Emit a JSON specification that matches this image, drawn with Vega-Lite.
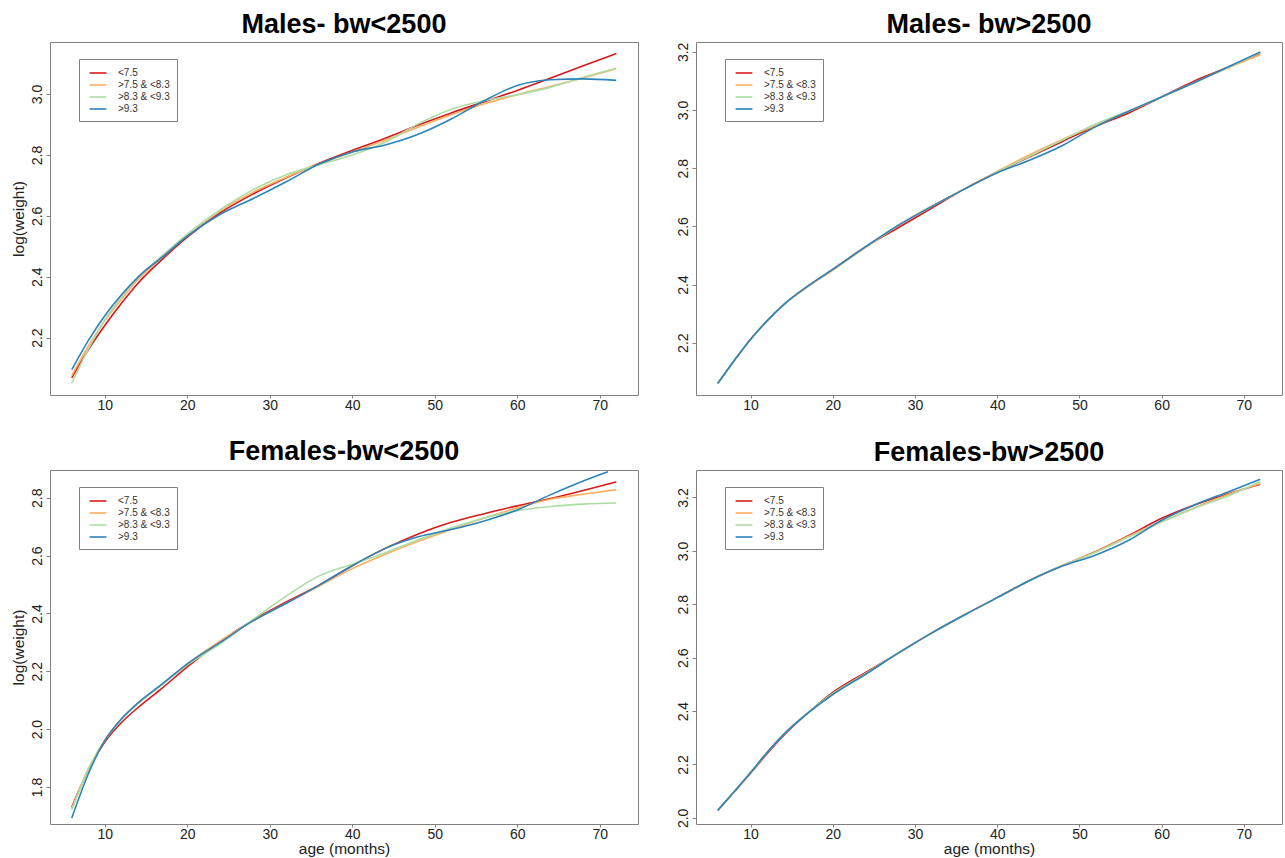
{
"$schema": "https://vega.github.io/schema/vega-lite/v6.json",
"padding": {"left": 10, "top": 10, "right": 3, "bottom": 0},
"background": "white",
"datasets": {
"m1": [
{"g":"<7.5","x":6,"y":2.068},{"g":"<7.5","x":8,"y":2.160},{"g":"<7.5","x":10,"y":2.240},{"g":"<7.5","x":12,"y":2.312},{"g":"<7.5","x":14,"y":2.378},{"g":"<7.5","x":17,"y":2.458},{"g":"<7.5","x":20,"y":2.530},{"g":"<7.5","x":24,"y":2.610},{"g":"<7.5","x":28,"y":2.672},{"g":"<7.5","x":32,"y":2.725},{"g":"<7.5","x":36,"y":2.773},{"g":"<7.5","x":40,"y":2.815},{"g":"<7.5","x":44,"y":2.855},{"g":"<7.5","x":48,"y":2.898},{"g":"<7.5","x":52,"y":2.938},{"g":"<7.5","x":56,"y":2.975},{"g":"<7.5","x":60,"y":3.012},{"g":"<7.5","x":64,"y":3.052},{"g":"<7.5","x":68,"y":3.093},{"g":"<7.5","x":72,"y":3.133},
{"g":">7.5 & <8.3","x":6,"y":2.075},{"g":">7.5 & <8.3","x":8,"y":2.172},{"g":">7.5 & <8.3","x":10,"y":2.255},{"g":">7.5 & <8.3","x":12,"y":2.325},{"g":">7.5 & <8.3","x":14,"y":2.390},{"g":">7.5 & <8.3","x":17,"y":2.465},{"g":">7.5 & <8.3","x":20,"y":2.537},{"g":">7.5 & <8.3","x":24,"y":2.617},{"g":">7.5 & <8.3","x":28,"y":2.678},{"g":">7.5 & <8.3","x":32,"y":2.727},{"g":">7.5 & <8.3","x":36,"y":2.770},{"g":">7.5 & <8.3","x":40,"y":2.810},{"g":">7.5 & <8.3","x":44,"y":2.848},{"g":">7.5 & <8.3","x":48,"y":2.892},{"g":">7.5 & <8.3","x":52,"y":2.932},{"g":">7.5 & <8.3","x":56,"y":2.968},{"g":">7.5 & <8.3","x":60,"y":2.998},{"g":">7.5 & <8.3","x":64,"y":3.025},{"g":">7.5 & <8.3","x":68,"y":3.053},{"g":">7.5 & <8.3","x":72,"y":3.083},
{"g":">8.3 & <9.3","x":6,"y":2.050},{"g":">8.3 & <9.3","x":8,"y":2.162},{"g":">8.3 & <9.3","x":10,"y":2.258},{"g":">8.3 & <9.3","x":12,"y":2.333},{"g":">8.3 & <9.3","x":14,"y":2.397},{"g":">8.3 & <9.3","x":17,"y":2.470},{"g":">8.3 & <9.3","x":20,"y":2.540},{"g":">8.3 & <9.3","x":24,"y":2.620},{"g":">8.3 & <9.3","x":28,"y":2.686},{"g":">8.3 & <9.3","x":32,"y":2.735},{"g":">8.3 & <9.3","x":36,"y":2.768},{"g":">8.3 & <9.3","x":40,"y":2.800},{"g":">8.3 & <9.3","x":44,"y":2.842},{"g":">8.3 & <9.3","x":48,"y":2.902},{"g":">8.3 & <9.3","x":52,"y":2.950},{"g":">8.3 & <9.3","x":56,"y":2.978},{"g":">8.3 & <9.3","x":60,"y":2.998},{"g":">8.3 & <9.3","x":64,"y":3.022},{"g":">8.3 & <9.3","x":68,"y":3.055},{"g":">8.3 & <9.3","x":72,"y":3.085},
{"g":">9.3","x":6,"y":2.095},{"g":">9.3","x":8,"y":2.190},{"g":">9.3","x":10,"y":2.272},{"g":">9.3","x":12,"y":2.340},{"g":">9.3","x":14,"y":2.398},{"g":">9.3","x":17,"y":2.465},{"g":">9.3","x":20,"y":2.533},{"g":">9.3","x":24,"y":2.605},{"g":">9.3","x":28,"y":2.657},{"g":">9.3","x":32,"y":2.712},{"g":">9.3","x":36,"y":2.770},{"g":">9.3","x":40,"y":2.810},{"g":">9.3","x":44,"y":2.833},{"g":">9.3","x":48,"y":2.868},{"g":">9.3","x":52,"y":2.918},{"g":">9.3","x":56,"y":2.978},{"g":">9.3","x":60,"y":3.028},{"g":">9.3","x":64,"y":3.047},{"g":">9.3","x":68,"y":3.050},{"g":">9.3","x":72,"y":3.045}
],
"m2": [
{"g":"<7.5","x":6,"y":2.060},{"g":"<7.5","x":8,"y":2.138},{"g":"<7.5","x":10,"y":2.212},{"g":"<7.5","x":12,"y":2.275},{"g":"<7.5","x":14,"y":2.330},{"g":"<7.5","x":17,"y":2.395},{"g":"<7.5","x":20,"y":2.452},{"g":"<7.5","x":24,"y":2.530},{"g":"<7.5","x":28,"y":2.596},{"g":"<7.5","x":32,"y":2.662},{"g":"<7.5","x":36,"y":2.728},{"g":"<7.5","x":40,"y":2.786},{"g":"<7.5","x":44,"y":2.840},{"g":"<7.5","x":48,"y":2.893},{"g":"<7.5","x":52,"y":2.945},{"g":"<7.5","x":56,"y":2.990},{"g":"<7.5","x":60,"y":3.045},{"g":"<7.5","x":64,"y":3.100},{"g":"<7.5","x":68,"y":3.146},{"g":"<7.5","x":72,"y":3.195},
{"g":">7.5 & <8.3","x":6,"y":2.060},{"g":">7.5 & <8.3","x":8,"y":2.138},{"g":">7.5 & <8.3","x":10,"y":2.212},{"g":">7.5 & <8.3","x":12,"y":2.275},{"g":">7.5 & <8.3","x":14,"y":2.330},{"g":">7.5 & <8.3","x":17,"y":2.393},{"g":">7.5 & <8.3","x":20,"y":2.449},{"g":">7.5 & <8.3","x":24,"y":2.528},{"g":">7.5 & <8.3","x":28,"y":2.603},{"g":">7.5 & <8.3","x":32,"y":2.668},{"g":">7.5 & <8.3","x":36,"y":2.729},{"g":">7.5 & <8.3","x":40,"y":2.789},{"g":">7.5 & <8.3","x":44,"y":2.847},{"g":">7.5 & <8.3","x":48,"y":2.900},{"g":">7.5 & <8.3","x":52,"y":2.948},{"g":">7.5 & <8.3","x":56,"y":2.996},{"g":">7.5 & <8.3","x":60,"y":3.045},{"g":">7.5 & <8.3","x":64,"y":3.095},{"g":">7.5 & <8.3","x":68,"y":3.144},{"g":">7.5 & <8.3","x":72,"y":3.190},
{"g":">8.3 & <9.3","x":6,"y":2.060},{"g":">8.3 & <9.3","x":8,"y":2.138},{"g":">8.3 & <9.3","x":10,"y":2.212},{"g":">8.3 & <9.3","x":12,"y":2.275},{"g":">8.3 & <9.3","x":14,"y":2.330},{"g":">8.3 & <9.3","x":17,"y":2.395},{"g":">8.3 & <9.3","x":20,"y":2.452},{"g":">8.3 & <9.3","x":24,"y":2.530},{"g":">8.3 & <9.3","x":28,"y":2.605},{"g":">8.3 & <9.3","x":32,"y":2.669},{"g":">8.3 & <9.3","x":36,"y":2.728},{"g":">8.3 & <9.3","x":40,"y":2.786},{"g":">8.3 & <9.3","x":44,"y":2.842},{"g":">8.3 & <9.3","x":48,"y":2.898},{"g":">8.3 & <9.3","x":52,"y":2.952},{"g":">8.3 & <9.3","x":56,"y":2.998},{"g":">8.3 & <9.3","x":60,"y":3.045},{"g":">8.3 & <9.3","x":64,"y":3.094},{"g":">8.3 & <9.3","x":68,"y":3.146},{"g":">8.3 & <9.3","x":72,"y":3.198},
{"g":">9.3","x":6,"y":2.060},{"g":">9.3","x":8,"y":2.138},{"g":">9.3","x":10,"y":2.212},{"g":">9.3","x":12,"y":2.275},{"g":">9.3","x":14,"y":2.330},{"g":">9.3","x":17,"y":2.395},{"g":">9.3","x":20,"y":2.452},{"g":">9.3","x":24,"y":2.530},{"g":">9.3","x":28,"y":2.604},{"g":">9.3","x":32,"y":2.668},{"g":">9.3","x":36,"y":2.728},{"g":">9.3","x":40,"y":2.784},{"g":">9.3","x":44,"y":2.828},{"g":">9.3","x":48,"y":2.879},{"g":">9.3","x":52,"y":2.943},{"g":">9.3","x":56,"y":2.996},{"g":">9.3","x":60,"y":3.045},{"g":">9.3","x":64,"y":3.095},{"g":">9.3","x":68,"y":3.147},{"g":">9.3","x":72,"y":3.200}
],
"f1": [
{"g":"<7.5","x":6,"y":1.730},{"g":"<7.5","x":8,"y":1.858},{"g":"<7.5","x":10,"y":1.955},{"g":"<7.5","x":12,"y":2.022},{"g":"<7.5","x":14,"y":2.074},{"g":"<7.5","x":17,"y":2.143},{"g":"<7.5","x":20,"y":2.215},{"g":"<7.5","x":24,"y":2.303},{"g":"<7.5","x":28,"y":2.378},{"g":"<7.5","x":32,"y":2.440},{"g":"<7.5","x":36,"y":2.498},{"g":"<7.5","x":40,"y":2.565},{"g":"<7.5","x":44,"y":2.625},{"g":"<7.5","x":48,"y":2.675},{"g":"<7.5","x":52,"y":2.715},{"g":"<7.5","x":56,"y":2.745},{"g":"<7.5","x":60,"y":2.772},{"g":"<7.5","x":64,"y":2.797},{"g":"<7.5","x":68,"y":2.825},{"g":"<7.5","x":72,"y":2.855},
{"g":">7.5 & <8.3","x":6,"y":1.725},{"g":">7.5 & <8.3","x":8,"y":1.862},{"g":">7.5 & <8.3","x":10,"y":1.962},{"g":">7.5 & <8.3","x":12,"y":2.034},{"g":">7.5 & <8.3","x":14,"y":2.088},{"g":">7.5 & <8.3","x":17,"y":2.155},{"g":">7.5 & <8.3","x":20,"y":2.225},{"g":">7.5 & <8.3","x":24,"y":2.305},{"g":">7.5 & <8.3","x":28,"y":2.375},{"g":">7.5 & <8.3","x":32,"y":2.435},{"g":">7.5 & <8.3","x":36,"y":2.495},{"g":">7.5 & <8.3","x":40,"y":2.555},{"g":">7.5 & <8.3","x":44,"y":2.605},{"g":">7.5 & <8.3","x":48,"y":2.650},{"g":">7.5 & <8.3","x":52,"y":2.690},{"g":">7.5 & <8.3","x":56,"y":2.730},{"g":">7.5 & <8.3","x":60,"y":2.765},{"g":">7.5 & <8.3","x":64,"y":2.795},{"g":">7.5 & <8.3","x":68,"y":2.812},{"g":">7.5 & <8.3","x":72,"y":2.828},
{"g":">8.3 & <9.3","x":6,"y":1.722},{"g":">8.3 & <9.3","x":8,"y":1.860},{"g":">8.3 & <9.3","x":10,"y":1.961},{"g":">8.3 & <9.3","x":12,"y":2.034},{"g":">8.3 & <9.3","x":14,"y":2.088},{"g":">8.3 & <9.3","x":17,"y":2.155},{"g":">8.3 & <9.3","x":20,"y":2.222},{"g":">8.3 & <9.3","x":24,"y":2.295},{"g":">8.3 & <9.3","x":28,"y":2.380},{"g":">8.3 & <9.3","x":32,"y":2.460},{"g":">8.3 & <9.3","x":36,"y":2.530},{"g":">8.3 & <9.3","x":40,"y":2.570},{"g":">8.3 & <9.3","x":44,"y":2.610},{"g":">8.3 & <9.3","x":48,"y":2.655},{"g":">8.3 & <9.3","x":52,"y":2.695},{"g":">8.3 & <9.3","x":56,"y":2.730},{"g":">8.3 & <9.3","x":60,"y":2.755},{"g":">8.3 & <9.3","x":64,"y":2.770},{"g":">8.3 & <9.3","x":68,"y":2.778},{"g":">8.3 & <9.3","x":72,"y":2.782},
{"g":">9.3","x":6,"y":1.693},{"g":">9.3","x":8,"y":1.845},{"g":">9.3","x":10,"y":1.960},{"g":">9.3","x":12,"y":2.035},{"g":">9.3","x":14,"y":2.090},{"g":">9.3","x":17,"y":2.157},{"g":">9.3","x":20,"y":2.226},{"g":">9.3","x":24,"y":2.300},{"g":">9.3","x":28,"y":2.375},{"g":">9.3","x":32,"y":2.435},{"g":">9.3","x":36,"y":2.498},{"g":">9.3","x":40,"y":2.565},{"g":">9.3","x":44,"y":2.625},{"g":">9.3","x":48,"y":2.665},{"g":">9.3","x":52,"y":2.690},{"g":">9.3","x":56,"y":2.720},{"g":">9.3","x":60,"y":2.758},{"g":">9.3","x":64,"y":2.810},{"g":">9.3","x":68,"y":2.858},{"g":">9.3","x":71,"y":2.890}
],
"f2": [
{"g":"<7.5","x":6,"y":2.028},{"g":"<7.5","x":8,"y":2.097},{"g":"<7.5","x":10,"y":2.167},{"g":"<7.5","x":12,"y":2.240},{"g":"<7.5","x":14,"y":2.308},{"g":"<7.5","x":17,"y":2.394},{"g":"<7.5","x":20,"y":2.470},{"g":"<7.5","x":24,"y":2.545},{"g":"<7.5","x":28,"y":2.618},{"g":"<7.5","x":32,"y":2.692},{"g":"<7.5","x":36,"y":2.760},{"g":"<7.5","x":40,"y":2.825},{"g":"<7.5","x":44,"y":2.890},{"g":"<7.5","x":48,"y":2.946},{"g":"<7.5","x":52,"y":2.998},{"g":"<7.5","x":56,"y":3.058},{"g":"<7.5","x":60,"y":3.122},{"g":"<7.5","x":64,"y":3.172},{"g":"<7.5","x":68,"y":3.213},{"g":"<7.5","x":72,"y":3.250},
{"g":">7.5 & <8.3","x":6,"y":2.028},{"g":">7.5 & <8.3","x":8,"y":2.098},{"g":">7.5 & <8.3","x":10,"y":2.170},{"g":">7.5 & <8.3","x":12,"y":2.245},{"g":">7.5 & <8.3","x":14,"y":2.312},{"g":">7.5 & <8.3","x":17,"y":2.395},{"g":">7.5 & <8.3","x":20,"y":2.465},{"g":">7.5 & <8.3","x":24,"y":2.540},{"g":">7.5 & <8.3","x":28,"y":2.618},{"g":">7.5 & <8.3","x":32,"y":2.692},{"g":">7.5 & <8.3","x":36,"y":2.760},{"g":">7.5 & <8.3","x":40,"y":2.825},{"g":">7.5 & <8.3","x":44,"y":2.890},{"g":">7.5 & <8.3","x":48,"y":2.946},{"g":">7.5 & <8.3","x":52,"y":2.997},{"g":">7.5 & <8.3","x":56,"y":3.055},{"g":">7.5 & <8.3","x":60,"y":3.110},{"g":">7.5 & <8.3","x":64,"y":3.162},{"g":">7.5 & <8.3","x":68,"y":3.210},{"g":">7.5 & <8.3","x":72,"y":3.252},
{"g":">8.3 & <9.3","x":6,"y":2.028},{"g":">8.3 & <9.3","x":8,"y":2.098},{"g":">8.3 & <9.3","x":10,"y":2.170},{"g":">8.3 & <9.3","x":12,"y":2.245},{"g":">8.3 & <9.3","x":14,"y":2.312},{"g":">8.3 & <9.3","x":17,"y":2.395},{"g":">8.3 & <9.3","x":20,"y":2.465},{"g":">8.3 & <9.3","x":24,"y":2.540},{"g":">8.3 & <9.3","x":28,"y":2.618},{"g":">8.3 & <9.3","x":32,"y":2.692},{"g":">8.3 & <9.3","x":36,"y":2.760},{"g":">8.3 & <9.3","x":40,"y":2.825},{"g":">8.3 & <9.3","x":44,"y":2.890},{"g":">8.3 & <9.3","x":48,"y":2.946},{"g":">8.3 & <9.3","x":52,"y":2.995},{"g":">8.3 & <9.3","x":56,"y":3.052},{"g":">8.3 & <9.3","x":60,"y":3.108},{"g":">8.3 & <9.3","x":64,"y":3.160},{"g":">8.3 & <9.3","x":68,"y":3.205},{"g":">8.3 & <9.3","x":72,"y":3.260},
{"g":">9.3","x":6,"y":2.028},{"g":">9.3","x":8,"y":2.098},{"g":">9.3","x":10,"y":2.170},{"g":">9.3","x":12,"y":2.245},{"g":">9.3","x":14,"y":2.312},{"g":">9.3","x":17,"y":2.393},{"g":">9.3","x":20,"y":2.462},{"g":">9.3","x":24,"y":2.538},{"g":">9.3","x":28,"y":2.618},{"g":">9.3","x":32,"y":2.692},{"g":">9.3","x":36,"y":2.760},{"g":">9.3","x":40,"y":2.825},{"g":">9.3","x":44,"y":2.890},{"g":">9.3","x":48,"y":2.944},{"g":">9.3","x":52,"y":2.985},{"g":">9.3","x":56,"y":3.040},{"g":">9.3","x":60,"y":3.115},{"g":">9.3","x":64,"y":3.172},{"g":">9.3","x":68,"y":3.220},{"g":">9.3","x":72,"y":3.268}
]
},
"config": {
"view": {"stroke": "#808080", "strokeWidth": 1},
"font": "Liberation Sans",
"axis": {"domain": false, "grid": false, "ticks": true, "tickColor": "#808080", "tickSize": 4, "labelFont": "Liberation Sans", "labelFontSize": 14, "labelColor": "#222222", "titleFont": "Liberation Sans", "titleFontSize": 15.5, "titleFontWeight": "normal", "titleColor": "#222222"},
"axisX": {"tickSize": 3, "labelPadding": 0},
"title": {"font": "Liberation Sans", "fontSize": 27, "fontWeight": "bold", "color": "#000000", "anchor": "middle", "frame": "group", "offset": 3, "baseline": "alphabetic"},
"line": {"strokeWidth": 1.6, "interpolate": "monotone", "clip": true}
},
"spacing": 24,
"resolve": {"legend": {"color": "independent"}},
"vconcat": [
{"spacing": 36, "resolve": {"legend": {"color": "independent"}}, "hconcat": [
{"width": 588, "height": 353, "title": "Males- bw<2500", "data": {"name": "m1"}, "mark": {"type": "line"},
 "encoding": {
  "x": {"field": "x", "type": "quantitative", "scale": {"domain": [3.36, 74.64], "nice": false, "zero": false}, "axis": {"values": [10,20,30,40,50,60,70], "title": null}},
  "y": {"field": "y", "type": "quantitative", "scale": {"domain": [2.0115, 3.171], "nice": false, "zero": false}, "axis": {"values": [2.2,2.4,2.6,2.8,3.0], "format": ".1f", "title": "log(weight)", "labelAngle": 270, "labelAlign": "center", "labelBaseline": "bottom", "labelPadding": 2, "titlePadding": 4}},
  "color": {"field": "g", "type": "nominal", "scale": {"domain": ["<7.5", ">7.5 & <8.3", ">8.3 & <9.3", ">9.3"], "range": ["#D7191C", "#FDAE61", "#ABDDA4", "#2B83BA"]},
   "legend": {"orient": "none", "legendX": 29, "legendY": 17, "title": null, "strokeColor": "#808080", "fillColor": "white", "padding": 7, "symbolType": "M-1.4,0H1.4", "symbolSize": 144, "symbolStrokeWidth": 2, "symbolOffset": 5, "labelOffset": 13, "labelFont": "Liberation Sans", "labelFontSize": 10, "labelColor": "#333333", "rowPadding": 0, "labelLimit": 200, "cornerRadius": 0}}
 }},
{"width": 586, "height": 353, "title": "Males- bw>2500", "data": {"name": "m2"}, "mark": {"type": "line"},
 "encoding": {
  "x": {"field": "x", "type": "quantitative", "scale": {"domain": [3.36, 74.64], "nice": false, "zero": false}, "axis": {"values": [10,20,30,40,50,60,70], "title": null}},
  "y": {"field": "y", "type": "quantitative", "scale": {"domain": [2.02, 3.234], "nice": false, "zero": false}, "axis": {"values": [2.2,2.4,2.6,2.8,3.0,3.2], "format": ".1f", "title": null, "labelAngle": 270, "labelAlign": "center", "labelBaseline": "bottom", "labelPadding": 2}},
  "color": {"field": "g", "type": "nominal", "scale": {"domain": ["<7.5", ">7.5 & <8.3", ">8.3 & <9.3", ">9.3"], "range": ["#D7191C", "#FDAE61", "#ABDDA4", "#2B83BA"]},
   "legend": {"orient": "none", "legendX": 29, "legendY": 17, "title": null, "strokeColor": "#808080", "fillColor": "white", "padding": 7, "symbolType": "M-1.4,0H1.4", "symbolSize": 144, "symbolStrokeWidth": 2, "symbolOffset": 5, "labelOffset": 13, "labelFont": "Liberation Sans", "labelFontSize": 10, "labelColor": "#333333", "rowPadding": 0, "labelLimit": 200, "cornerRadius": 0}}
 }}
]},
{"spacing": 36, "resolve": {"legend": {"color": "independent"}}, "hconcat": [
{"width": 588, "height": 354, "title": "Females-bw<2500", "data": {"name": "f1"}, "mark": {"type": "line"},
 "encoding": {
  "x": {"field": "x", "type": "quantitative", "scale": {"domain": [3.36, 74.64], "nice": false, "zero": false}, "axis": {"values": [10,20,30,40,50,60,70], "title": "age (months)", "titlePadding": 0}},
  "y": {"field": "y", "type": "quantitative", "scale": {"domain": [1.672, 2.896], "nice": false, "zero": false}, "axis": {"values": [1.8,2.0,2.2,2.4,2.6,2.8], "format": ".1f", "title": "log(weight)", "labelAngle": 270, "labelAlign": "center", "labelBaseline": "bottom", "labelPadding": 2, "titlePadding": 4}},
  "color": {"field": "g", "type": "nominal", "scale": {"domain": ["<7.5", ">7.5 & <8.3", ">8.3 & <9.3", ">9.3"], "range": ["#D7191C", "#FDAE61", "#ABDDA4", "#2B83BA"]},
   "legend": {"orient": "none", "legendX": 29, "legendY": 17, "title": null, "strokeColor": "#808080", "fillColor": "white", "padding": 7, "symbolType": "M-1.4,0H1.4", "symbolSize": 144, "symbolStrokeWidth": 2, "symbolOffset": 5, "labelOffset": 13, "labelFont": "Liberation Sans", "labelFontSize": 10, "labelColor": "#333333", "rowPadding": 0, "labelLimit": 200, "cornerRadius": 0}}
 }},
{"width": 586, "height": 354, "title": "Females-bw>2500", "data": {"name": "f2"}, "mark": {"type": "line"},
 "encoding": {
  "x": {"field": "x", "type": "quantitative", "scale": {"domain": [3.36, 74.64], "nice": false, "zero": false}, "axis": {"values": [10,20,30,40,50,60,70], "title": "age (months)", "titlePadding": 0}},
  "y": {"field": "y", "type": "quantitative", "scale": {"domain": [1.977, 3.303], "nice": false, "zero": false}, "axis": {"values": [2.0,2.2,2.4,2.6,2.8,3.0,3.2], "format": ".1f", "title": null, "labelAngle": 270, "labelAlign": "center", "labelBaseline": "bottom", "labelPadding": 2}},
  "color": {"field": "g", "type": "nominal", "scale": {"domain": ["<7.5", ">7.5 & <8.3", ">8.3 & <9.3", ">9.3"], "range": ["#D7191C", "#FDAE61", "#ABDDA4", "#2B83BA"]},
   "legend": {"orient": "none", "legendX": 29, "legendY": 17, "title": null, "strokeColor": "#808080", "fillColor": "white", "padding": 7, "symbolType": "M-1.4,0H1.4", "symbolSize": 144, "symbolStrokeWidth": 2, "symbolOffset": 5, "labelOffset": 13, "labelFont": "Liberation Sans", "labelFontSize": 10, "labelColor": "#333333", "rowPadding": 0, "labelLimit": 200, "cornerRadius": 0}}
 }}
]}
]
}
